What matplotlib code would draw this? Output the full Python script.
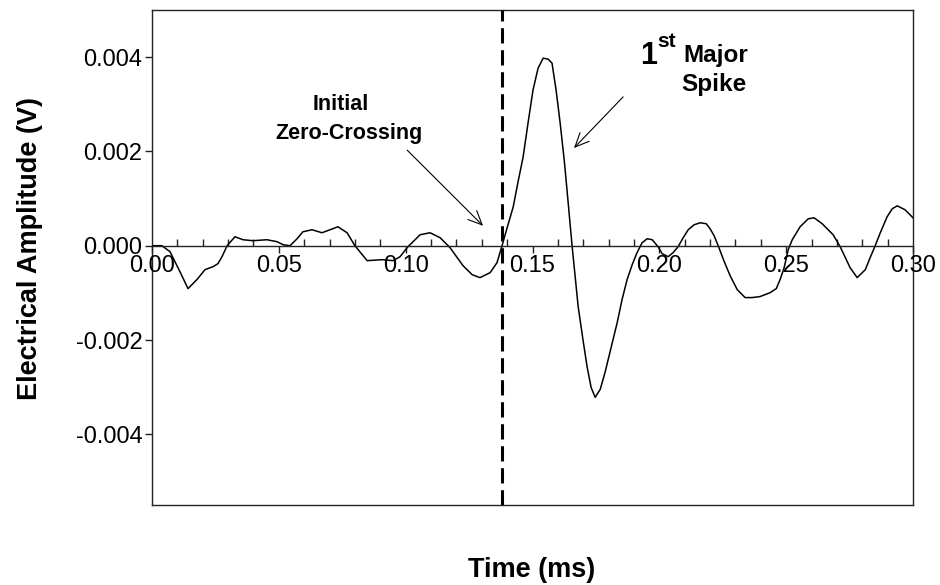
import numpy as np
import matplotlib
matplotlib.use("Agg")
import matplotlib.pyplot as plt

plt.rcParams['font.family'] = ['Liberation Sans', 'DejaVu Sans']

# ---- data ----
time_ms = [0.0000, 0.0039, 0.0071, 0.0110, 0.0142, 0.0177, 0.0209, 0.0241, 0.0260, 0.0276,
           0.0296, 0.0327, 0.0359, 0.0398, 0.0453, 0.0493, 0.0517, 0.0544, 0.0572, 0.0595,
           0.0631, 0.0670, 0.0702, 0.0733, 0.0769, 0.0800, 0.0848, 0.0907, 0.0950, 0.0978,
           0.1009, 0.1057, 0.1096, 0.1136, 0.1175, 0.1226, 0.1262, 0.1293, 0.1333, 0.1360,
           0.1380, 0.1400, 0.1424, 0.1443, 0.1463, 0.1483, 0.1502, 0.1522, 0.1542, 0.1562,
           0.1577, 0.1593, 0.1609, 0.1625, 0.1636, 0.1656, 0.1680, 0.1700, 0.1715, 0.1731,
           0.1747, 0.1767, 0.1786, 0.1810, 0.1834, 0.1853, 0.1873, 0.1893, 0.1912, 0.1932,
           0.1952, 0.1972, 0.1995, 0.2011, 0.2035, 0.2054, 0.2074, 0.2094, 0.2114, 0.2137,
           0.2161, 0.2185, 0.2200, 0.2216, 0.2232, 0.2256, 0.2279, 0.2307, 0.2338, 0.2366,
           0.2397, 0.2437, 0.2461, 0.2476, 0.2492, 0.2508, 0.2524, 0.2555, 0.2587, 0.2610,
           0.2642, 0.2685, 0.2713, 0.2752, 0.2780, 0.2812, 0.2831, 0.2851, 0.2871, 0.2898,
           0.2918, 0.2938, 0.2969, 0.3000]

amplitude_mV = [0.000, 0.000, -0.127, -0.550, -0.910, -0.719, -0.508, -0.444, -0.381, -0.233,
                0.000, 0.190, 0.127, 0.106, 0.127, 0.085, 0.021, 0.000, 0.148, 0.296,
                0.339, 0.275, 0.339, 0.402, 0.275, 0.000, -0.317, -0.296, -0.317, -0.233,
                -0.021, 0.233, 0.275, 0.169, -0.042, -0.423, -0.614, -0.677, -0.571, -0.360,
                0.000, 0.381, 0.825, 1.354, 1.883, 2.624, 3.301, 3.766, 3.978, 3.957,
                3.872, 3.301, 2.603, 1.820, 1.185, 0.000, -1.291, -2.031, -2.560, -3.005,
                -3.216, -3.047, -2.687, -2.158, -1.629, -1.143, -0.719, -0.402, -0.148, 0.063,
                0.148, 0.127, -0.021, -0.169, -0.233, -0.148, -0.021, 0.169, 0.339, 0.444,
                0.487, 0.466, 0.360, 0.212, 0.000, -0.339, -0.635, -0.931, -1.100, -1.100,
                -1.079, -0.995, -0.910, -0.719, -0.466, -0.085, 0.127, 0.402, 0.571, 0.592,
                0.466, 0.233, -0.021, -0.466, -0.677, -0.508, -0.254, 0.000, 0.275, 0.614,
                0.783, 0.846, 0.762, 0.592]

zero_crossing_ms = 0.138

x_major_ticks = [0.00, 0.05, 0.10, 0.15, 0.20, 0.25, 0.30]
x_tick_labels = ["0.00", "0.05", "0.10", "0.15", "0.20", "0.25", "0.30"]
x_minor_step = 0.01
y_ticks = [-0.004, -0.002, 0.000, 0.002, 0.004]
y_tick_labels = ["-0.004", "-0.002", "0.000", "0.002", "0.004"]

amplitude_V = np.array(amplitude_mV) / 1000.0

# ---- figure ----
W, H = 940, 585
fig = plt.figure(figsize=(W / 100, H / 100), dpi=100)
rect = [152 / W, 1 - 505 / H, (913 - 152) / W, (505 - 10) / H]

box = fig.add_axes(rect, zorder=0)
box.set_xticks([]); box.set_yticks([])
for s in box.spines.values():
    s.set_linewidth(1.0); s.set_color('#222222')

ax = fig.add_axes(rect, zorder=1)
ax.patch.set_visible(False)
ax.set_xlim(0, 0.30)
ax.set_ylim(-0.0055, 0.005)

ax.plot(time_ms, amplitude_V, color='black', lw=1.1)
ax.axvline(zero_crossing_ms, color='black', lw=2.2, ls=(0, (5, 2.2)))

ax.spines['bottom'].set_position(('data', 0))
for s in ['top', 'right', 'left']:
    ax.spines[s].set_visible(False)
ax.spines['bottom'].set_linewidth(1.0)
ax.spines['bottom'].set_color('#222222')

ax.set_xticks(x_major_ticks)
ax.set_xticklabels(x_tick_labels)
ax.set_xticks(np.arange(0, 0.30 + 1e-9, x_minor_step), minor=True)
ax.tick_params(axis='x', which='major', direction='out', length=5, width=1,
               labelsize=17, pad=2, color='#222222')
ax.tick_params(axis='x', which='minor', direction='in', length=5, width=1,
               color='#222222')
ax.set_yticks(y_ticks)
ax.set_yticklabels(y_tick_labels)
ax.tick_params(axis='y', direction='out', length=5, width=1, labelsize=17,
               pad=2, color='#222222')
box.set_ylim(ax.get_ylim())

# annotations
ax.annotate("", xy=(0.1313, 0.00038), xytext=(0.0998, 0.00207),
            arrowprops=dict(arrowstyle='->,head_length=1.0,head_width=0.45', color='black', lw=0.8))
ax.annotate("", xy=(0.1656, 0.00203), xytext=(0.1865, 0.0032),
            arrowprops=dict(arrowstyle='->,head_length=1.0,head_width=0.45', color='black', lw=0.8))

ax.text(0.0745, 0.00288, "Initial", ha='center', va='baseline', fontsize=15.5, fontweight='bold')
ax.text(0.0777, 0.00226, "Zero-Crossing", ha='center', va='baseline', fontsize=15.5, fontweight='bold')
ax.text(0.1956, 0.00385, "1", ha='center', va='baseline', fontsize=22, fontweight='bold')
ax.text(0.1991, 0.00421, "st", ha='left', va='baseline', fontsize=15, fontweight='bold')
ax.text(0.2094, 0.00389, "Major", ha='left', va='baseline', fontsize=17.5, fontweight='bold')
ax.text(0.2216, 0.00328, "Spike", ha='center', va='baseline', fontsize=17.5, fontweight='bold')

fig.text(30 / W, 1 - 248 / H, "Electrical Amplitude (V)", rotation=90, ha='center', va='center',
         fontsize=19.5, fontweight='bold')
fig.text(532 / W, 1 - 570 / H, "Time (ms)", ha='center', va='center', fontsize=19.5, fontweight='bold')

fig.savefig("out.png", dpi=100)
